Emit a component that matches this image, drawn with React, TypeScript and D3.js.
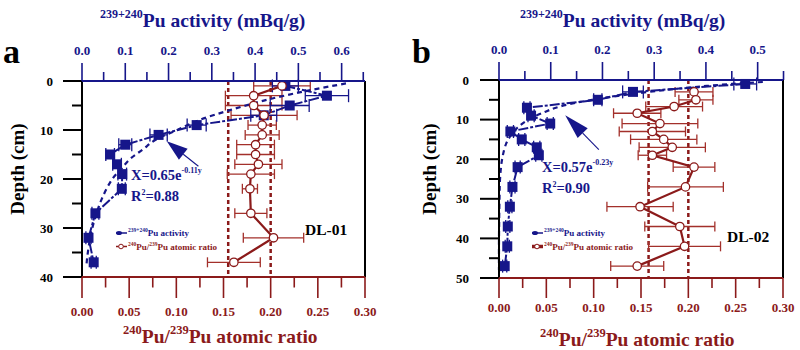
import React from 'react';
import * as d3 from 'd3';

// ---- DL-01 (panel a) ----
const depthA = [1, 3, 5, 7, 9, 11, 13, 15, 17, 19, 22, 27, 32, 37];
const activityA = [0.47, 0.566, 0.48, 0.42, 0.265, 0.177, 0.1, 0.065, 0.081, 0.093, 0.092, 0.031, 0.015, 0.027];
const activityErrA = [0.03, 0.05, 0.045, 0.03, 0.022, 0.02, 0.015, 0.01, 0.01, 0.01, 0.008, 0.008, 0.006, 0.006];
const ratioDepthA = [1, 3, 5, 7, 9, 11, 13, 15, 17, 19, 22, 27, 32, 37];
const ratioA = [0.212, 0.182, 0.182, 0.193, 0.191, 0.191, 0.184, 0.184, 0.187, 0.179, 0.178, 0.179, 0.203, 0.161];
const ratioErrA = [0.03, 0.03, 0.03, 0.035, 0.015, 0.018, 0.02, 0.02, 0.025, 0.025, 0.008, 0.017, 0.032, 0.028];
const fitDepthA = [0.5, 2, 4, 6, 8, 10, 12, 14, 16, 18, 20, 24, 28, 32, 36, 38];
const fitActA = [0.61, 0.52, 0.42, 0.34, 0.27, 0.22, 0.17, 0.14, 0.11, 0.09, 0.07, 0.046, 0.03, 0.019, 0.012, 0.01];
const refRatioA = [0.155, 0.2];

// ---- DL-02 (panel b) ----
const depthB = [1, 3, 5, 7, 9, 11, 13, 15, 17, 19, 22, 27, 32, 37, 42, 47];
const activityB = [0.476, 0.259, 0.191, 0.054, 0.062, 0.099, 0.022, 0.044, 0.073, 0.077, 0.036, 0.026, 0.021, 0.017, 0.016, 0.011];
const activityErrB = [0.022, 0.02, 0.008, 0.006, 0.006, 0.006, 0.006, 0.006, 0.006, 0.006, 0.005, 0.005, 0.004, 0.004, 0.004, 0.004];
const ratioDepthB = [3, 5, 6.7, 8.4, 11, 13, 15, 17, 19, 22, 27, 32, 37, 42, 47];
const ratioB = [0.206, 0.208, 0.185, 0.146, 0.17, 0.162, 0.174, 0.183, 0.162, 0.206, 0.197, 0.149, 0.191, 0.196, 0.146];
const ratioErrB = [0.02, 0.018, 0.03, 0.025, 0.04, 0.035, 0.035, 0.035, 0.015, 0.022, 0.04, 0.035, 0.037, 0.038, 0.028];
const fitDepthB = [0.5, 1, 2, 3, 4, 5, 6, 7, 8, 10, 12, 14, 16, 20, 25, 30, 40, 48];
const fitActB = [0.51, 0.45, 0.36, 0.29, 0.23, 0.18, 0.14, 0.11, 0.09, 0.057, 0.036, 0.023, 0.014, 0.006, 0.002, 0.001, 0, 0];
const refRatioB = [0.158, 0.2];

// ---- ticks ----
const activityTicksA = [0, 0.1, 0.2, 0.3, 0.4, 0.5, 0.6];
const activityTicksB = [0, 0.1, 0.2, 0.3, 0.4, 0.5];
const ratioTicks = [0, 0.05, 0.1, 0.15, 0.2, 0.25, 0.3];
const depthTicksA = [0, 10, 20, 30, 40];
const depthTicksB = [0, 10, 20, 30, 40, 50];

const NAVY = '#16168a';
const RED = '#8b1a1a';
const ERR_RED = '#a3302b';
const FONT = '"Liberation Serif", "Times New Roman", serif';

type Part = [string, boolean];

function parts(list: Part[], size: number, supSize: number, rise: number) {
  let up = false;
  return list.map(([t, sup], i) => {
    let dy = 0;
    if (sup && !up) { dy = -rise; up = true; }
    else if (!sup && up) { dy = rise; up = false; }
    return (
      <tspan key={i} dy={dy} fontSize={sup ? supSize : size}>{t}</tspan>
    );
  });
}

function Panel(props: any) {
  const p = props.cfg;
  const act = d3.scaleLinear().domain([0, p.actEnd]).range([p.left, p.right]);
  const ratio = d3.scaleLinear().domain([0, 0.3]).range([p.left, p.right]);
  const depth = d3.scaleLinear().domain([0, p.depthMax]).range([p.top, p.bottom]);

  const minorTop = d3.range(0, p.actEnd + 0.003, 0.05);
  const minorBottom = d3.range(0, 0.3001, 0.025);
  const minorLeft = d3.range(0, p.depthMax + 0.01, 5);

  const actLine = d3.line<number>()
    .x((_, i) => act(p.activity[i]))
    .y(d => depth(d));
  const fitLine = d3.line<number>()
    .x((_, i) => act(p.fitAct[i]))
    .y(d => depth(d))
    .curve(d3.curveCatmullRom);
  const ratioLine = d3.line<number>()
    .x((_, i) => ratio(p.ratio[i]))
    .y(d => depth(d));

  // arrow
  const tx = act(p.arrow[0]), ty = depth(p.arrow[1]);
  const sx = act(p.arrow[2]), sy = depth(p.arrow[3]);
  const ang = Math.atan2(ty - sy, tx - sx);
  const hl = p.arrowHead, hw = 7;
  const bx = tx - hl * Math.cos(ang), by = ty - hl * Math.sin(ang);
  const head = [
    [tx, ty],
    [bx + hw * Math.sin(ang), by - hw * Math.cos(ang)],
    [bx - hw * Math.sin(ang), by + hw * Math.cos(ang)],
  ].map(d => d.join(',')).join(' ');

  return (
    <g fontFamily={FONT} fontWeight="bold">
      {/* panel letter */}
      <text x={p.letterX} y={63} fontSize={34} fill="#000">{p.letter}</text>

      {/* top title */}
      <text x={p.topTitleX} y={27} fill={NAVY}>
        {parts([['239+240', true], ['Pu activity (mBq/g)', false]], 19.5, 12, 9)}
      </text>
      {/* bottom title */}
      <text x={p.bottomTitleX} y={p.bottomTitleY} fill={RED}>
        {parts([['240', true], ['Pu/', false], ['239', true], ['Pu atomic ratio', false]], 19.5, 12.5, 9)}
      </text>
      {/* depth title */}
      <text transform={`translate(${p.depthTitleX},${(p.top + p.bottom) / 2 - 10}) rotate(-90)`}
        textAnchor="middle" dy="0.35em" fontSize={19} fill="#000">Depth (cm)</text>

      {/* reference ratio lines */}
      {p.refRatio.map((r: number, i: number) => (
        <line key={i} x1={ratio(r)} x2={ratio(r)} y1={p.top} y2={p.bottom}
          stroke={RED} strokeWidth={2.5} strokeDasharray="4,3" />
      ))}

      {/* ratio error bars */}
      {p.ratioDepth.map((d: number, i: number) => {
        const y = depth(d);
        const x0 = ratio(p.ratio[i] - p.ratioErr[i]);
        const x1 = ratio(p.ratio[i] + p.ratioErr[i]);
        return (
          <g key={i} stroke={ERR_RED} strokeWidth={1.3}>
            <line x1={x0} x2={x1} y1={y} y2={y} />
            <line x1={x0} x2={x0} y1={y - 5} y2={y + 5} />
            <line x1={x1} x2={x1} y1={y - 5} y2={y + 5} />
          </g>
        );
      })}

      {/* fit curve */}
      <path d={fitLine(p.fitDepth) || ''} fill="none" stroke={NAVY} strokeWidth={2.2} strokeDasharray="5,4" />
      {/* connecting activity line */}
      <path d={actLine(p.depth) || ''} fill="none" stroke={NAVY} strokeWidth={2} strokeDasharray="10,2,3,2" />

      {/* activity error bars */}
      {p.depth.map((d: number, i: number) => {
        const y = depth(d);
        const x0 = act(p.activity[i] - p.activityErr[i]);
        const x1 = act(p.activity[i] + p.activityErr[i]);
        return (
          <g key={i} stroke={NAVY} strokeWidth={1.3}>
            <line x1={x0} x2={x1} y1={y} y2={y} />
            <line x1={x0} x2={x0} y1={y - 6.5} y2={y + 6.5} />
            <line x1={x1} x2={x1} y1={y - 6.5} y2={y + 6.5} />
          </g>
        );
      })}
      {/* activity squares */}
      {p.depth.map((d: number, i: number) => (
        <rect key={i} x={act(p.activity[i]) - 5} y={depth(d) - 5} width={10} height={10} fill={NAVY} />
      ))}

      {/* ratio line and points */}
      <path d={ratioLine(p.ratioDepth) || ''} fill="none" stroke={RED} strokeWidth={2.2} />
      {p.ratioDepth.map((d: number, i: number) => (
        <circle key={i} cx={ratio(p.ratio[i])} cy={depth(d)} r={4.2} fill="#fff" stroke={RED} strokeWidth={1.3} />
      ))}

      {/* arrow annotation */}
      <line x1={sx} y1={sy} x2={bx} y2={by} stroke={NAVY} strokeWidth={1.1} />
      <polygon points={head} fill={NAVY} />

      {/* fit equation */}
      <text x={p.eqX} y={p.eqY} fill={NAVY}>
        {parts([[p.eqText, false], [p.eqExp, true]], 14.5, 8, 7)}
      </text>
      <text x={p.eqX} y={p.eqY + 21} fill={NAVY}>
        {parts([['R', false], ['2', true], [p.r2Text, false]], 14.5, 8, 6)}
      </text>

      {/* legend */}
      <g>
        <line x1={p.legX - 12} x2={p.legX - 1} y1={p.legY} y2={p.legY} stroke={NAVY} strokeWidth={1.5} />
        <ellipse cx={p.legX - 9} cy={p.legY} rx={3} ry={2} fill={NAVY} />
        <text x={p.legX} y={p.legY + 3} fill={NAVY}>
          {parts([['239+240', true], ['Pu activity', false]], 9, 5.5, 4)}
        </text>
        <line x1={p.legX - 12} x2={p.legX - 1} y1={p.legY + 13.5} y2={p.legY + 13.5} stroke={RED} strokeWidth={p.legThick} />
        <circle cx={p.legX - 7} cy={p.legY + 13.5} r={2.3} fill="#fff" stroke={RED} strokeWidth={1} />
        <text x={p.legX} y={p.legY + 16.5} fill={RED}>
          {parts([['240', true], ['Pu/', false], ['239', true], ['Pu atomic ratio', false]], 9, 5.5, 4)}
        </text>
      </g>

      {/* site label */}
      <text x={p.siteX} y={p.siteY} fontSize={15.5} fill="#000">{p.site}</text>

      {/* frame: left and right (black) */}
      <line x1={p.left} x2={p.left} y1={p.top} y2={p.bottom} stroke="#000" strokeWidth={2} />
      <line x1={p.right} x2={p.right} y1={p.top} y2={p.bottom} stroke="#000" strokeWidth={2} />
      {minorLeft.map((d: number, i: number) => {
        const major = Math.abs(d % 10) < 1e-6;
        return (
          <line key={i} x1={p.left - (major ? 19 : 10)} x2={p.left} y1={depth(d)} y2={depth(d)}
            stroke="#000" strokeWidth={2} />
        );
      })}
      {p.depthTicks.map((d: number) => (
        <text key={d} x={p.depthLabelX} y={depth(d)} dy="0.35em" textAnchor="end" fontSize={13} fill="#000">{d}</text>
      ))}

      {/* top axis (activity) */}
      <line x1={p.left} x2={p.right} y1={p.top} y2={p.top} stroke={NAVY} strokeWidth={2} />
      {minorTop.map((v: number, i: number) => {
        const major = i % 2 === 0;
        return (
          <line key={i} x1={act(v)} x2={act(v)} y1={p.top - (major ? 18 : 9)} y2={p.top}
            stroke={NAVY} strokeWidth={1.6} />
        );
      })}
      {p.actTicks.map((v: number) => (
        <text key={v} x={act(v)} y={p.topLabelY} dy="0.35em" textAnchor="middle" fontSize={13} fill={NAVY}>
          {v.toFixed(1)}
        </text>
      ))}

      {/* bottom axis (ratio) */}
      <line x1={p.left} x2={p.right} y1={p.bottom} y2={p.bottom} stroke={RED} strokeWidth={2} />
      {minorBottom.map((v: number, i: number) => {
        const major = i % 2 === 0;
        return (
          <line key={i} x1={ratio(v)} x2={ratio(v)} y1={p.bottom} y2={p.bottom + (major ? p.bottomTick : p.bottomTick / 2)}
            stroke={RED} strokeWidth={1.6} />
        );
      })}
      {ratioTicks.map((v: number) => (
        <text key={v} x={ratio(v)} y={p.bottomLabelY} dy="0.35em" textAnchor="middle" fontSize={13} fill={RED}>
          {v.toFixed(2)}
        </text>
      ))}
    </g>
  );
}

const panelA = {
  letter: 'a', letterX: 3, site: 'DL-01', siteX: 305, siteY: 235,
  left: 82, right: 365, top: 81, bottom: 277, actEnd: 0.654, depthMax: 40,
  depth: depthA, activity: activityA, activityErr: activityErrA,
  ratioDepth: ratioDepthA, ratio: ratioA, ratioErr: ratioErrA,
  fitDepth: fitDepthA, fitAct: fitActA, refRatio: refRatioA,
  actTicks: activityTicksA, depthTicks: depthTicksA,
  arrow: [0.196, 12.3, 0.269, 17.4], arrowHead: 21,
  eqX: 131, eqY: 180, eqText: 'X=0.65e', eqExp: '-0.11y', r2Text: '=0.88',
  legX: 128, legY: 233, legThick: 1.5,
  topTitleX: 100, bottomTitleX: 123, bottomTitleY: 343, depthTitleX: 17,
  depthLabelX: 53, topLabelY: 50, bottomLabelY: 311, bottomTick: 21,
};

const panelB = {
  letter: 'b', letterX: 412, site: 'DL-02', siteX: 727, siteY: 242,
  left: 499, right: 783, top: 80, bottom: 278, actEnd: 0.549, depthMax: 50,
  depth: depthB, activity: activityB, activityErr: activityErrB,
  ratioDepth: ratioDepthB, ratio: ratioB, ratioErr: ratioErrB,
  fitDepth: fitDepthB, fitAct: fitActB, refRatio: refRatioB,
  actTicks: activityTicksB, depthTicks: depthTicksB,
  arrow: [0.128, 8.9, 0.193, 17.6], arrowHead: 25,
  eqX: 542, eqY: 172, eqText: 'X=0.57e', eqExp: '-0.23y', r2Text: '=0.90',
  legX: 544, legY: 233, legThick: 3.5,
  topTitleX: 520, bottomTitleX: 540, bottomTitleY: 346, depthTitleX: 429,
  depthLabelX: 469, topLabelY: 49, bottomLabelY: 307, bottomTick: 20,
};

export default function App() {
  return (
    <div style={{ position: 'absolute', left: 0, top: 0 }}>
      <svg width={800} height={350} style={{ display: 'block', background: '#fff' }}>
        <Panel cfg={panelA} />
        <Panel cfg={panelB} />
      </svg>
    </div>
  );
}
